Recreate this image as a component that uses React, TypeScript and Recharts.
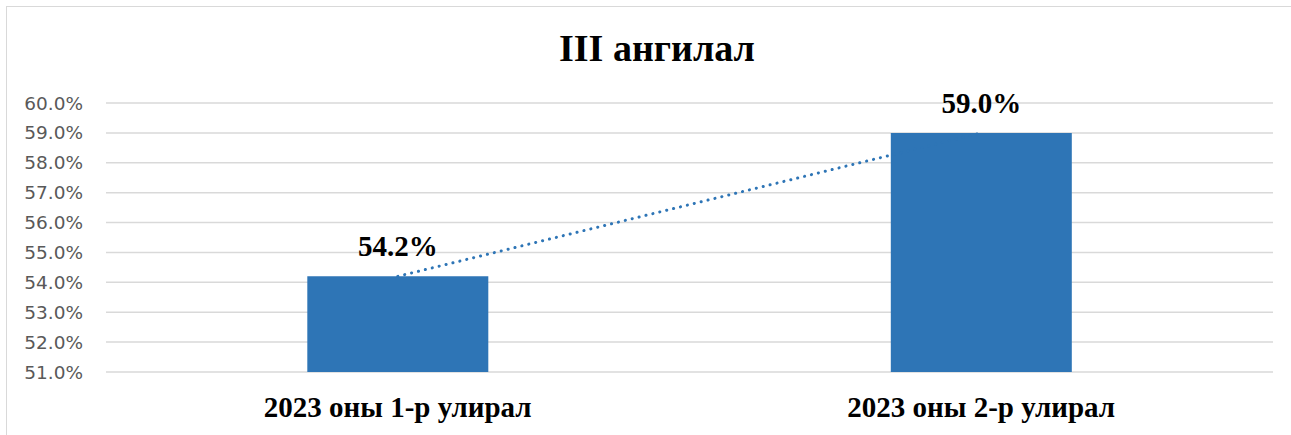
import { ComposedChart, Bar, Line, XAxis, YAxis, CartesianGrid, LabelList } from "recharts";

const categories = ["2023 оны 1-р улирал", "2023 оны 2-р улирал"];
const shares = [0.542, 0.59];
const yTicks = [0.51, 0.52, 0.53, 0.54, 0.55, 0.56, 0.57, 0.58, 0.59, 0.6];

const data = categories.map((name, i) => ({ name, value: shares[i] }));

const BLUE = "#2E75B6";
const SERIF = "'Liberation Serif', 'Times New Roman', serif";

const pct = (v: number) => `${(v * 100).toFixed(1)}%`;

const CategoryTick = (props: any) => {
  const { x, y, payload } = props;
  return (
    <text x={x} y={y + 37} textAnchor="middle" fontFamily={SERIF} fontWeight="bold" fontSize={29} fill="#000">
      {payload.value}
    </text>
  );
};

const ValueLabel = (props: any) => {
  const { x, y, width, value } = props;
  return (
    <text x={x + width / 2} y={y - 20} textAnchor="middle" fontFamily={SERIF} fontWeight="bold" fontSize={29} fill="#000">
      {pct(value)}
    </text>
  );
};

export default function App() {
  return (
    <div
      style={{
        position: "absolute",
        left: 6,
        top: 6,
        width: 1300,
        height: 440,
        border: "1px solid #d9d9d9",
        background: "#fff",
      }}
    >
      <div
        style={{
          position: "absolute",
          left: 0,
          right: 0,
          top: 21,
          textAlign: "center",
          fontFamily: SERIF,
          fontWeight: "bold",
          fontSize: 38,
          lineHeight: "40px",
          color: "#000",
        }}
      >
        III ангилал
      </div>
      <ComposedChart
        width={1300}
        height={440}
        data={data}
        margin={{ top: 96, right: 34, left: 0, bottom: 45 }}
        barCategoryGap="34.5%"
      >
        <CartesianGrid vertical={false} stroke="#d9d9d9" strokeWidth={1.5} />
        <XAxis dataKey="name" axisLine={false} tickLine={false} tick={<CategoryTick />} />
        <YAxis
          width={99}
          domain={[0.51, 0.6]}
          ticks={yTicks}
          tickFormatter={pct}
          axisLine={false}
          tickLine={false}
          tickMargin={17}
          tick={{ fill: "#595959", fontSize: 18.5, fontFamily: "'DejaVu Sans', sans-serif" }}
        />
        <Bar dataKey="value" fill={BLUE} isAnimationActive={false}>
          <LabelList dataKey="value" content={<ValueLabel />} />
        </Bar>
        <Line
          dataKey="value"
          type="linear"
          stroke={BLUE}
          strokeWidth={3}
          strokeDasharray="0.1 7"
          strokeLinecap="round"
          dot={false}
          activeDot={false}
          isAnimationActive={false}
        />
      </ComposedChart>
    </div>
  );
}
